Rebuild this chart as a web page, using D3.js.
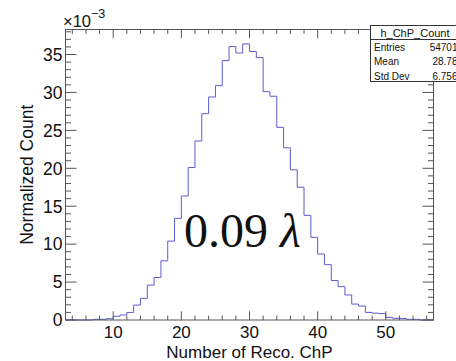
<!DOCTYPE html>
<html>
<head>
<meta charset="utf-8">
<script src="https://cdn.jsdelivr.net/npm/d3@7"></script>
<style>
  html, body { margin: 0; padding: 0; background: #fff; }
  svg { display: block; }
  text { font-family: "Liberation Sans", Arial, Helvetica, sans-serif; fill: #111; }
</style>
</head>
<body>
<svg id="chart" width="456" height="361"></svg>
<script>
// Histogram h_ChP_Count: unit-width bins, values in units of 1e-3
const binLowEdges = d3.range(3, 57);
const binValues = [
  0, 0, 0, 0,
  0.09, 0.09, 0.17, 0.49, 0.66, 1.0, 1.97, 2.85, 4.6, 5.6,
  7.8, 10.4, 13.4, 16.35, 20.1, 23.6, 27.2, 29.4, 30.9, 34.2,
  36.05, 35.2, 36.4, 35.4, 34.6, 30.1, 29.5, 25.4, 22.7, 19.8,
  17.5, 13.8, 10.9, 8.7, 7.3, 5.2, 4.4, 3.3, 2.1, 1.84,
  1.0, 0.9, 0.85, 0.35, 0.22, 0.2, 0.09, 0.09, 0, 0
];
const binWidth = 1;
const xDomain = [3, 57];
const yDomain = [0, 38.3];
const xMajorTicks = [10, 20, 30, 40, 50];
const xMinorTicks = d3.range(4, 57, 2);
const yMajorTicks = [0, 5, 10, 15, 20, 25, 30, 35];
const yMinorTicks = d3.range(0, 39, 1);
const statsTitle = "h_ChP_Count";
const statsLabels = ["Entries", "Mean", "Std Dev"];
const statsValues = ["54701", "28.78", "6.756"];
const xTitle = "Number of Reco. ChP";
const yTitle = "Normalized Count";
const annotation = "0.09";
const annotationSymbol = "\u03bb";

const svg = d3.select("#chart");
const frame = { left: 65.5, right: 433.5, top: 29.5, bottom: 320 };

const x = d3.scaleLinear().domain(xDomain).range([frame.left, frame.right]);
const y = d3.scaleLinear().domain(yDomain).range([frame.bottom, frame.top]);

// Step outline of the histogram
const pts = [];
binLowEdges.forEach((lo, i) => {
  pts.push([x(lo), y(binValues[i])]);
  pts.push([x(lo + binWidth), y(binValues[i])]);
});
pts.unshift([x(binLowEdges[0]), y(0)]);
pts.push([x(binLowEdges[binLowEdges.length - 1] + binWidth), y(0)]);
svg.append("path")
  .attr("d", d3.line()(pts))
  .attr("fill", "none")
  .attr("stroke", "#5c5cd2")
  .attr("stroke-width", 1);

// Frame and inward ticks on all four sides
const axisColor = "#555";
const g = svg.append("g").attr("stroke", axisColor).attr("stroke-width", 1).attr("fill", "none");
g.append("rect")
  .attr("x", frame.left).attr("y", frame.top)
  .attr("width", frame.right - frame.left).attr("height", frame.bottom - frame.top);

const xMajLen = 8.7, xMinLen = 4.4, yMajLen = 11, yMinLen = 5.5;
xMinorTicks.forEach(v => {
  const len = xMajorTicks.includes(v) ? xMajLen : xMinLen;
  g.append("line").attr("x1", x(v)).attr("x2", x(v)).attr("y1", frame.bottom).attr("y2", frame.bottom - len);
  g.append("line").attr("x1", x(v)).attr("x2", x(v)).attr("y1", frame.top).attr("y2", frame.top + len);
});
yMinorTicks.forEach(v => {
  const len = yMajorTicks.includes(v) ? yMajLen : yMinLen;
  g.append("line").attr("y1", y(v)).attr("y2", y(v)).attr("x1", frame.left).attr("x2", frame.left + len);
  g.append("line").attr("y1", y(v)).attr("y2", y(v)).attr("x1", frame.right).attr("x2", frame.right - len);
});

// Tick labels
svg.append("g").selectAll("text").data(xMajorTicks).join("text")
  .attr("x", d => x(d)).attr("y", 337.5)
  .attr("text-anchor", "middle").attr("font-size", 17)
  .text(d => d);
svg.append("g").selectAll("text").data(yMajorTicks).join("text")
  .attr("x", 62.5).attr("y", d => y(d)).attr("dy", "0.36em")
  .attr("text-anchor", "end").attr("font-size", 17.5)
  .text(d => d);

// Exponent marker above the y axis
const expo = svg.append("text").attr("x", 63).attr("y", 27).attr("font-size", 16.5);
expo.append("tspan").text("\u00d710");
expo.append("tspan").attr("font-size", 12.5).attr("dy", -9).text("\u22123");

// Axis titles
svg.append("text")
  .attr("x", (frame.left + frame.right) / 2).attr("y", 357.5)
  .attr("text-anchor", "middle").attr("font-size", 17)
  .text(xTitle);
svg.append("text")
  .attr("transform", `translate(33,${(frame.top + frame.bottom) / 2}) rotate(-90)`)
  .attr("text-anchor", "middle").attr("font-size", 17.5)
  .text(yTitle);

// Annotation
const serif = "'Liberation Serif', 'Times New Roman', serif";
const ann = svg.append("text")
  .attr("x", 184).attr("y", 246.5)
  .attr("font-size", 48)
  .style("font-family", serif);
ann.append("tspan").style("font-family", serif).text(annotation + " ");
ann.append("tspan").style("font-family", serif).attr("font-style", "italic").text(annotationSymbol);

// Statistics box
const box = { x: 370.5, y: 25.5, w: 90, h: 56, titleH: 14 };
const sb = svg.append("g");
sb.append("rect").attr("x", box.x).attr("y", box.y).attr("width", box.w).attr("height", box.h)
  .attr("fill", "#fff").attr("stroke", "#333").attr("stroke-width", 1);
sb.append("line").attr("x1", box.x).attr("x2", box.x + box.w)
  .attr("y1", box.y + box.titleH).attr("y2", box.y + box.titleH)
  .attr("stroke", "#333").attr("stroke-width", 1);
sb.append("text").attr("x", 415).attr("y", box.y + 11.5)
  .attr("text-anchor", "middle").attr("font-size", 11).text(statsTitle);
statsLabels.forEach((lab, i) => {
  const by = 50.5 + i * 14.5;
  sb.append("text").attr("x", 374).attr("y", by).attr("font-size", 10).text(lab);
  sb.append("text").attr("x", 457.5).attr("y", by).attr("text-anchor", "end").attr("font-size", 10).text(statsValues[i]);
});
</script>
</body>
</html>
